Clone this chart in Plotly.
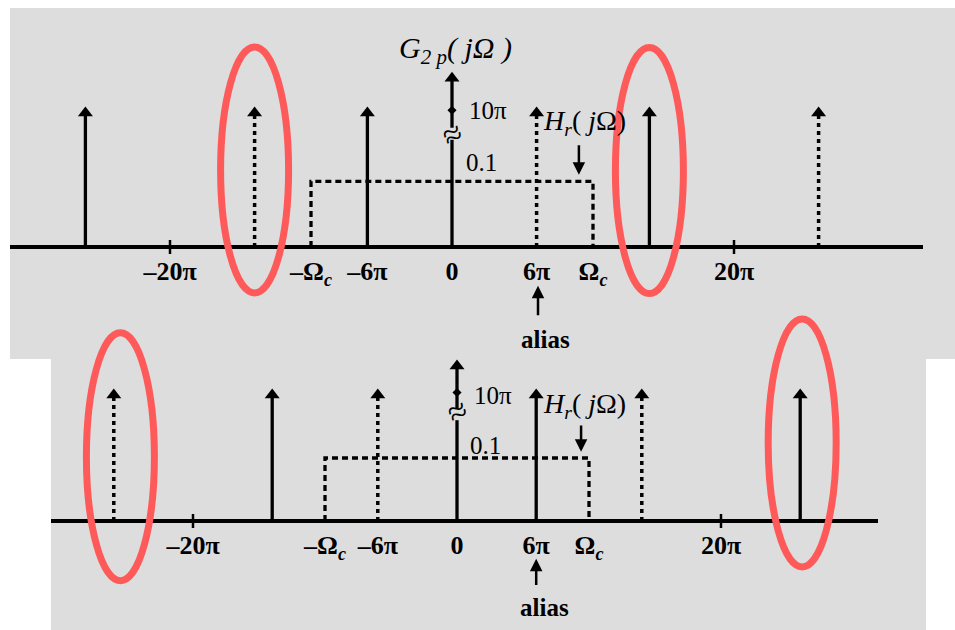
import plotly.graph_objects as go

# ---------------- data (Ω in units of π) ----------------
tick_vals = [-20, -10, -6, 0, 6, 10, 20]
tick_text = ["–20π", "–Ω<sub><i>c</i></sub>", "–6π", "0", "6π", "Ω<sub><i>c</i></sub>", "20π"]
major_ticks = [-20, 20]

top_solid = [-26, -6, 14]
top_dashed = [-14, 6, 26]
bot_solid = [-14, 6, 26]
bot_dashed = [-26, -6, 14]
impulse_height = 1.0          # displayed height of side impulses
center_height_top = 1.26      # 10π impulse (broken axis)
center_height_bot = 1.23
omega_c = 10
filter_gain_top = 0.49        # displayed height of Hr = 0.1
filter_gain_bot = 0.50
circled_top = [-14, 14]
circled_bot = [-26, 26]

W, H = 955, 630
BLACK = "black"
RED = "#FF5A5A"
GRAY = "#DDDDDD"
SERIF = "Liberation Serif"

fig = go.Figure()


def add_panel(xa, ya, solid, dashed, h0, gain):
    xs, ys = [], []
    for v in solid:
        xs += [v, v, None]
        ys += [0, impulse_height, None]
    fig.add_trace(go.Scatter(x=xs, y=ys, mode="lines", xaxis=xa, yaxis=ya,
                             line=dict(color=BLACK, width=3.3), hoverinfo="skip"))
    xs, ys = [], []
    for v in dashed:
        xs += [v, v, None]
        ys += [0, impulse_height, None]
    fig.add_trace(go.Scatter(x=xs, y=ys, mode="lines", xaxis=xa, yaxis=ya,
                             line=dict(color=BLACK, width=3.5, dash="4px,4px"), hoverinfo="skip"))
    fig.add_trace(go.Scatter(x=solid + dashed, y=[impulse_height] * (len(solid) + len(dashed)),
                             mode="markers", xaxis=xa, yaxis=ya,
                             marker=dict(symbol="triangle-up", size=13, color=BLACK), hoverinfo="skip"))
    brk = 0.84
    fig.add_trace(go.Scatter(x=[0, 0, None, 0, 0], y=[0, brk - 0.04, None, brk + 0.05, h0],
                             mode="lines", xaxis=xa, yaxis=ya,
                             line=dict(color=BLACK, width=3.3), hoverinfo="skip"))
    fig.add_trace(go.Scatter(x=[0], y=[h0], mode="markers", xaxis=xa, yaxis=ya,
                             marker=dict(symbol="triangle-up", size=13, color=BLACK), hoverinfo="skip"))
    fig.add_trace(go.Scatter(x=[0], y=[1.02], mode="markers", xaxis=xa, yaxis=ya,
                             marker=dict(symbol="diamond", size=7, color=BLACK), hoverinfo="skip"))
    fig.add_trace(go.Scatter(x=[-omega_c, -omega_c, omega_c, omega_c], y=[0, gain, gain, 0],
                             mode="lines", xaxis=xa, yaxis=ya,
                             line=dict(color=BLACK, width=3.3, dash="6px,4px"), hoverinfo="skip"))
    fig.add_trace(go.Scatter(x=major_ticks, y=[0, 0], mode="markers", xaxis=xa, yaxis=ya,
                             marker=dict(symbol="line-ns-open", size=10, color=BLACK,
                                         line=dict(color=BLACK, width=2.5)),
                             hoverinfo="skip"))


add_panel("x", "y", top_solid, top_dashed, center_height_top, filter_gain_top)
add_panel("x2", "y2", bot_solid, bot_dashed, center_height_bot, filter_gain_bot)

top_axis_py, top_pi = 247, 14.1
bot_axis_py, bot_pi = 521, 13.2
top_x0px, top_x1px, top_zero = 10, 923, 452
bot_x0px, bot_x1px, bot_zero = 51, 878, 457
top_unit, bot_unit = 134, 126

xaxis_common = dict(showgrid=False, zeroline=False, showline=True, linecolor=BLACK, linewidth=4,
                    ticks="", tickvals=tick_vals, ticktext=tick_text, anchor="free",
                    tickfont=dict(family=SERIF, size=26, color=BLACK, weight="bold"), fixedrange=True,
                    ticklabelstandoff=0)

fig.update_layout(
    width=W, height=H, margin=dict(l=0, r=0, t=0, b=0),
    paper_bgcolor="white", plot_bgcolor="rgba(0,0,0,0)", showlegend=False,
    xaxis=dict(domain=[top_x0px / W, top_x1px / W],
               range=[(top_x0px - top_zero) / top_pi, (top_x1px - top_zero) / top_pi],
               position=1 - top_axis_py / H, **xaxis_common),
    xaxis2=dict(domain=[bot_x0px / W, bot_x1px / W],
                range=[(bot_x0px - bot_zero) / bot_pi, (bot_x1px - bot_zero) / bot_pi],
                position=1 - bot_axis_py / H, **xaxis_common),
    yaxis=dict(domain=[0, 1], range=[(top_axis_py - H) / top_unit, top_axis_py / top_unit],
               visible=False, fixedrange=True, anchor="x"),
    yaxis2=dict(domain=[0, 1], range=[(bot_axis_py - H) / bot_unit, bot_axis_py / bot_unit],
                visible=False, fixedrange=True, anchor="x2"),
)

fig.add_shape(type="rect", xref="paper", yref="paper", x0=10 / W, x1=1, y0=1 - 359 / H, y1=1 - 8 / H,
              fillcolor=GRAY, line=dict(width=0), layer="below")
fig.add_shape(type="rect", xref="paper", yref="paper", x0=51 / W, x1=926 / W, y0=0, y1=1 - 358 / H,
              fillcolor=GRAY, line=dict(width=0), layer="below")

for c, cy in zip(circled_top, [0.575, 0.57]):
    sx, sy = 34 / top_pi, 123 / top_unit
    fig.add_shape(type="circle", xref="x", yref="y", x0=c - sx, x1=c + sx, y0=cy - sy, y1=cy + sy,
                  line=dict(color=RED, width=7), layer="above")
for c, cy in zip(circled_bot, [0.51, 0.62]):
    sx, sy = 34 / bot_pi, 124 / bot_unit
    cc = c + (0.5 if c < 0 else 0.15)
    fig.add_shape(type="circle", xref="x2", yref="y2", x0=cc - sx, x1=cc + sx, y0=cy - sy, y1=cy + sy,
                  line=dict(color=RED, width=7), layer="above")

ann = []


def txt(xr, yr, x, y, text, size=22, xanchor="center", bold=False, italic=False, angle=0):
    t = text
    if italic:
        t = "<i>" + t + "</i>"
    if bold:
        t = "<b>" + t + "</b>"
    ann.append(dict(xref=xr, yref=yr, x=x, y=y, text=t, showarrow=False, xanchor=xanchor,
                    yanchor="middle", textangle=angle,
                    font=dict(family=SERIF, size=size, color=BLACK)))


def arrow(xr, yr, x, y0, y1):
    ann.append(dict(xref=xr, yref=yr, axref=xr, ayref=yr, x=x, y=y1, ax=x, ay=y0, text="",
                    showarrow=True, arrowhead=2, arrowsize=1, arrowwidth=2.5, arrowcolor=BLACK))


# top panel labels
txt("x", "y", 0.28, 1.47, "G<sub>2 p</sub>( <i>j</i>Ω )", size=30, italic=True)
txt("x", "y", 1.06, 1.02, "10π", size=25, xanchor="left")
txt("x", "y", 0.85, 0.63, "0.1", size=25, xanchor="left")
txt("x", "y", 6.3, 0.93, "<i>H</i><sub><i>r</i></sub>( <i>j</i>Ω)", size=28, xanchor="left")
arrow("x", "y", 9.0, 0.77, 0.54)
arrow("x", "y", 6.1, -0.52, -0.29)
txt("x", "y", 6.6, -0.69, "alias", size=25, bold=True)
txt("x", "y", 35.0, 0, "Ω", size=26, bold=True)
txt("x", "y", 0, 0.84, "≈", size=34, angle=-25)

# bottom panel labels
txt("x2", "y2", 1.14, 1.0, "10π", size=25, xanchor="left")
txt("x2", "y2", 0.84, 0.6, "0.1", size=25, xanchor="left")
txt("x2", "y2", 6.4, 0.92, "<i>H</i><sub><i>r</i></sub>( <i>j</i>Ω)", size=28, xanchor="left")
arrow("x2", "y2", 9.4, 0.77, 0.55)
arrow("x2", "y2", 6.0, -0.52, -0.30)
txt("x2", "y2", 6.6, -0.69, "alias", size=25, bold=True)
txt("x2", "y2", 34.1, 0, "Ω", size=26, bold=True)
txt("x2", "y2", 0, 0.87, "≈", size=34, angle=-25)

fig.update_layout(annotations=ann)
fig.write_html("out.html", config={"displayModeBar": False},
               post_script="document.body.style.margin='0px';document.body.style.padding='0px';")
